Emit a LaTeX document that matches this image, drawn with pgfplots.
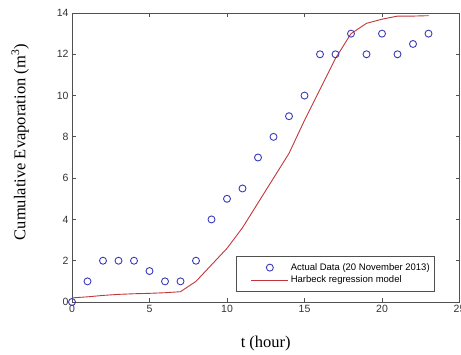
\documentclass[border=0pt]{standalone}
\usepackage{fontspec}
\setmainfont{Liberation Serif}
\newfontfamily\sansf{Liberation Sans}
\usepackage{pgfplots}
\pgfplotsset{compat=1.18}
\definecolor{mkblue}{HTML}{3A3AB8}
\definecolor{lnred}{HTML}{C0363A}
\definecolor{axgray}{HTML}{505050}
\begin{document}
\begin{tikzpicture}
\begin{axis}[name=ax,
  scale only axis, width=387.5pt, height=289pt,
  xmin=0, xmax=25, ymin=0, ymax=14,
  xtick={0,5,10,15,20,25}, ytick={0,2,4,6,8,10,12,14},
  tick align=inside, major tick length=4pt,
  axis line style={axgray, line width=0.8pt},
  every tick/.style={axgray, line width=0.8pt},
  /pgf/number format/assume math mode=true,
  tick label style={font=\sansf\fontsize{10.5}{12}\selectfont, text=black!80},
  xlabel={t (hour)}, ylabel={Cumulative Evaporation (m\textsuperscript{3})},
  label style={font=\fontsize{16.5}{19}\selectfont},
  xlabel style={at={(axis description cs:0.5,-0.142)}, anchor=center},
  ylabel style={at={(axis description cs:-0.134,0.553)}, anchor=center},
  legend style={at={(0.937,0.036)}, anchor=south east, draw=axgray, line width=0.8pt,
    font=\sansf\fontsize{9.5}{11.5}\selectfont, inner xsep=3pt, inner ysep=5pt, row sep=0pt},
  legend cell align=left,
  legend image code/.code={\path (-12pt,0pt); \draw[mark repeat=2,mark phase=2,#1] plot coordinates {(0pt,0pt)(18.5pt,0pt)(37pt,0pt)};},
]
\addplot[only marks, mark=o, mark size=3.5pt, mkblue, line width=0.9pt] coordinates {
(0,0)(1,1)(2,2)(3,2)(4,2)(5,1.5)(6,1)(7,1)(8,2)(9,4)(10,5)(11,5.5)(12,7)(13,8)(14,9)(15,10)(16,12)(17,12)(18,13)(19,12)(20,13)(21,12)(22,12.5)(23,13)};
\addlegendentry{Actual Data (20 November 2013)}
\addplot[lnred, line width=0.9pt, mark=none] coordinates {
(0,0.2)(1,0.25)(2,0.32)(3,0.37)(4,0.4)(5,0.42)(6,0.45)(7,0.5)(8,1.0)(9,1.8)(10,2.6)(11,3.6)(12,4.8)(13,6.0)(14,7.2)(15,8.8)(16,10.3)(17,11.8)(18,13.0)(19,13.5)(20,13.7)(21,13.85)(22,13.85)(23,13.87)};
\addlegendentry{Harbeck regression model}
\end{axis}
\pgfresetboundingbox
\path[use as bounding box] ([xshift=-72pt,yshift=-52pt]ax.south west) rectangle ([xshift=1.5pt,yshift=13pt]ax.north east);
\end{tikzpicture}
\end{document}
